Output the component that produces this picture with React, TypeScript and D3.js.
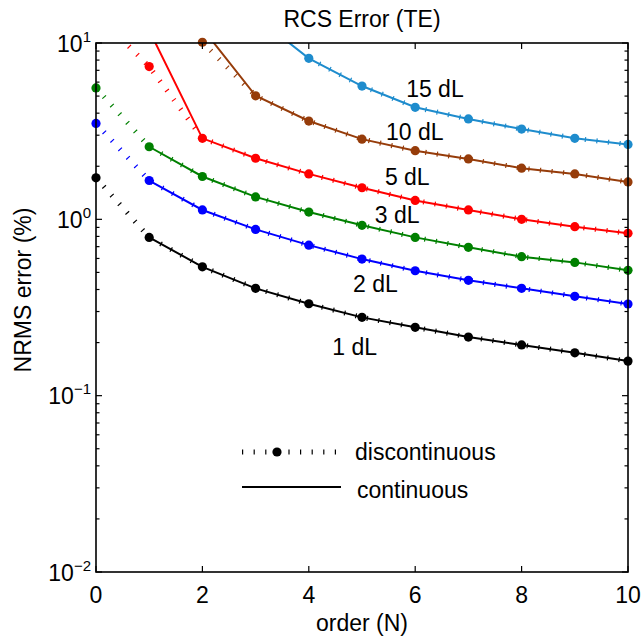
import React from "react";
import * as d3 from "d3";

// ---- data ----
const orders = [0, 1, 2, 3, 4, 5, 6, 7, 8, 9, 10];
const seriesNames = ["1 dL", "2 dL", "3 dL", "5 dL", "10 dL", "15 dL"];
const seriesColors = ["#000000", "#0000ff", "#008000", "#ff0000", "#963c0a", "#1e8ccd"];

// discontinuous (dotted + dots)
const disc1 = [1.72, 0.79, 0.538, 0.406, 0.332, 0.278, 0.244, 0.215, 0.194, 0.175, 0.157];
const disc2 = [3.5, 1.66, 1.13, 0.877, 0.714, 0.595, 0.511, 0.451, 0.406, 0.366, 0.331];
const disc3 = [5.56, 2.58, 1.75, 1.34, 1.1, 0.925, 0.79, 0.694, 0.614, 0.57, 0.514];
const disc5 = [14.7, 7.35, 2.88, 2.22, 1.81, 1.51, 1.28, 1.13, 1.0, 0.908, 0.834];
const disc10 = [null, null, 10.1, 5.02, 3.61, 2.85, 2.45, 2.2, 1.95, 1.81, 1.63];
const disc15 = [null, null, null, null, 8.19, 5.7, 4.32, 3.71, 3.25, 2.88, 2.66];

// continuous (solid)
const cont1 = [null, 0.79, 0.538, 0.406, 0.332, 0.278, 0.244, 0.215, 0.194, 0.175, 0.157];
const cont2 = [null, 1.66, 1.13, 0.877, 0.714, 0.595, 0.511, 0.451, 0.406, 0.366, 0.331];
const cont3 = [null, 2.58, 1.75, 1.34, 1.1, 0.925, 0.79, 0.694, 0.614, 0.57, 0.514];
const cont5 = [null, 11.8, 2.88, 2.22, 1.81, 1.51, 1.28, 1.13, 1.0, 0.908, 0.834];
const cont10 = [null, null, 12.1, 5.02, 3.61, 2.85, 2.45, 2.2, 1.95, 1.81, 1.63];
const cont15 = [null, null, null, 14.1, 8.19, 5.7, 4.32, 3.71, 3.25, 2.88, 2.66];

// label anchors (order, value)
const labelOrders = [4.44, 4.83, 5.24, 5.43, 5.45, 5.83];
const labelValues = [0.17, 0.388, 0.953, 1.565, 2.82, 4.94];

const xTickValues = [0, 2, 4, 6, 8, 10];
const yDecades = [-2, -1, 0, 1];

const discSeries = [disc1, disc2, disc3, disc5, disc10, disc15];
const contSeries = [cont1, cont2, cont3, cont5, cont10, cont15];

const FONT = "'Liberation Sans', Arial, Helvetica, sans-serif";

export default function App() {
  const W = 641, H = 639;
  const L = 96, R = 628, T = 43, B = 572;
  const x = d3.scaleLinear().domain([0, 10]).range([L, R]);
  const y = d3.scaleLog().domain([0.01, 10]).range([B, T]);

  const line = d3
    .line<number | null>()
    .defined((d) => d != null)
    .x((_, i) => x(orders[i]))
    .y((d) => y(d as number));

  const minorY = y.ticks();
  const fs = 23;

  return (
    <svg
      width={W}
      height={H}
      style={{ position: "absolute", left: 0, top: 0, background: "#fff" }}
      fontFamily={FONT}
    >
      <rect x={0} y={0} width={W} height={H} fill="#fff" />
      <defs>
        <clipPath id="plotclip">
          <rect x={L} y={T} width={R - L} height={B - T} />
        </clipPath>
      </defs>

      {/* series */}
      <g clipPath="url(#plotclip)">
        {contSeries.map((s, k) => (
          <path key={"c" + k} d={line(s) || ""} fill="none" stroke={seriesColors[k]} strokeWidth={2} />
        ))}
        {discSeries.map((s, k) => (
          <path
            key={"d" + k}
            d={line(s) || ""}
            fill="none"
            stroke={seriesColors[k]}
            strokeWidth={5}
            strokeDasharray="1.2 10.4"
            strokeLinecap="butt"
          />
        ))}
      </g>
      {discSeries.map((s, k) =>
        s.map((v, i) =>
          v != null && v <= 10.2 && v >= 0.01 ? (
            <circle key={"m" + k + "_" + i} cx={x(orders[i])} cy={y(v)} r={4.6} fill={seriesColors[k]} />
          ) : null
        )
      )}

      {/* series labels */}
      {seriesNames.map((n, k) => (
        <text key={"l" + k} x={x(labelOrders[k])} y={y(labelValues[k])} fontSize={fs} fill="#000">
          {n}
        </text>
      ))}

      {/* axes box */}
      <rect x={L} y={T} width={R - L} height={B - T} fill="none" stroke="#000" strokeWidth={1.6} />

      {/* x ticks */}
      {xTickValues.map((t) => (
        <g key={"xt" + t}>
          <line x1={x(t)} x2={x(t)} y1={B} y2={B - 6} stroke="#000" strokeWidth={1.2} />
          <line x1={x(t)} x2={x(t)} y1={T} y2={T + 6} stroke="#000" strokeWidth={1.2} />
          <text x={x(t)} y={603} fontSize={fs} textAnchor="middle" fill="#000">
            {t}
          </text>
        </g>
      ))}

      {/* y ticks */}
      {minorY.map((t, i) => {
        const lg = Math.log10(t);
        const major = Math.abs(lg - Math.round(lg)) < 1e-9;
        const len = major ? 6 : 3.5;
        return (
          <g key={"yt" + i}>
            <line x1={L} x2={L + len} y1={y(t)} y2={y(t)} stroke="#000" strokeWidth={1.2} />
            <line x1={R} x2={R - len} y1={y(t)} y2={y(t)} stroke="#000" strokeWidth={1.2} />
          </g>
        );
      })}
      {yDecades.map((e) => (
        <text key={"yl" + e} x={91} y={y(Math.pow(10, e)) + 8.5} fontSize={fs} textAnchor="end" fill="#000">
          10
          <tspan dy={-10} fontSize={15}>
            {e < 0 ? "\u2212" + Math.abs(e) : String(e)}
          </tspan>
        </text>
      ))}

      {/* title & axis labels */}
      <text x={(L + R) / 2} y={27} fontSize={fs} textAnchor="middle" fill="#000">
        RCS Error (TE)
      </text>
      <text x={(L + R) / 2} y={631} fontSize={fs} textAnchor="middle" fill="#000">
        order (N)
      </text>
      <text
        transform={`translate(31, 290) rotate(-90)`}
        fontSize={fs}
        textAnchor="middle"
        fill="#000"
      >
        NRMS error (%)
      </text>

      {/* legend */}
      <g>
        <line x1={242} x2={336} y1={452} y2={452} stroke="#000" strokeWidth={5} strokeDasharray="1.2 10.4" />
        <circle cx={277} cy={452} r={4.6} fill="#000" />
        <text x={355} y={460} fontSize={fs} fill="#000">
          discontinuous
        </text>
        <line x1={242} x2={341} y1={487} y2={487} stroke="#000" strokeWidth={2} />
        <text x={357} y={498} fontSize={fs} fill="#000">
          continuous
        </text>
      </g>
    </svg>
  );
}
